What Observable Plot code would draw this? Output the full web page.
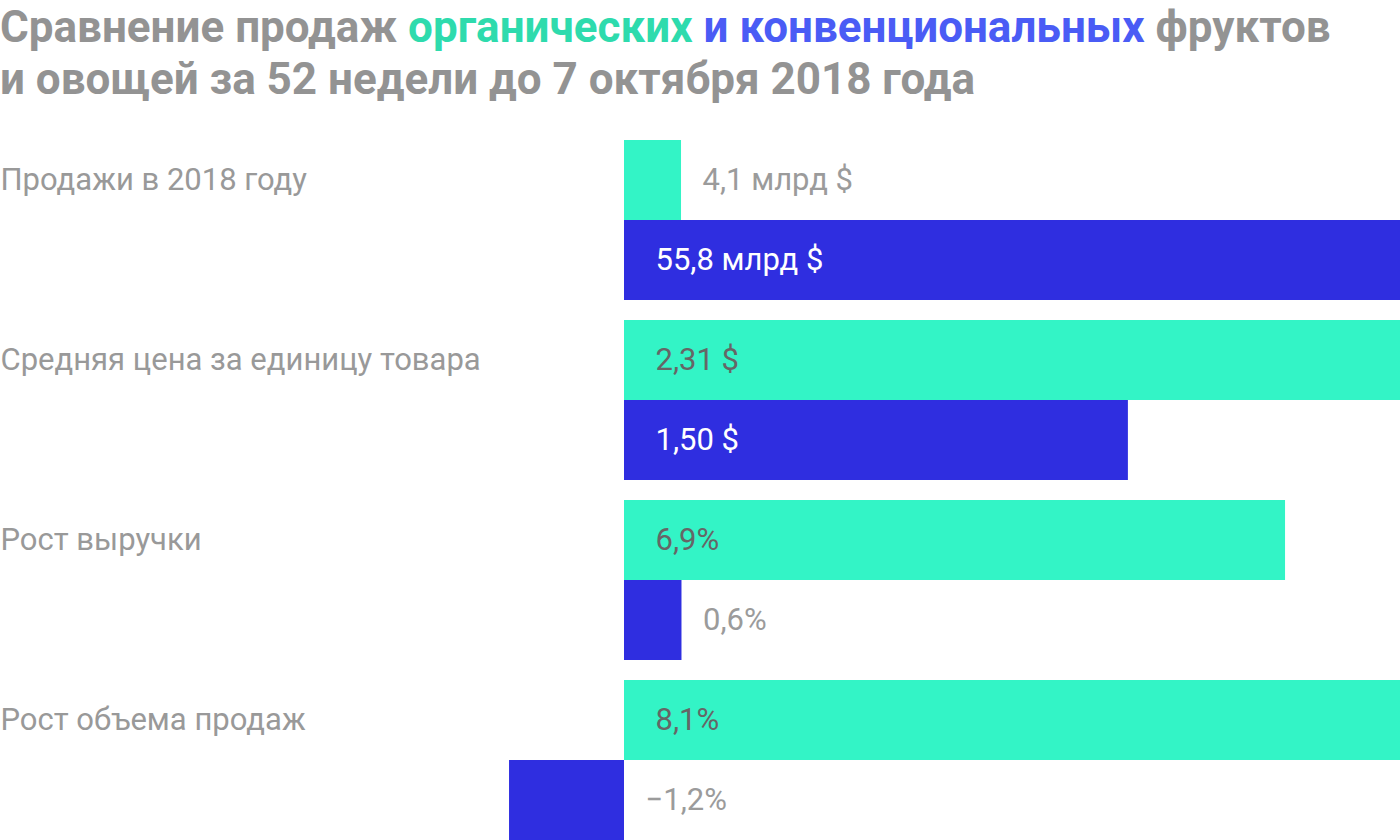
<!DOCTYPE html>
<html><head><meta charset="utf-8">
<script src="https://cdn.jsdelivr.net/npm/d3@7"></script>
<script src="https://cdn.jsdelivr.net/npm/@observablehq/plot@0.6"></script>
<style>
html,body{margin:0;padding:0;background:#fff;font-family:Roboto,sans-serif;overflow:hidden;}
#title{height:120px;font-weight:700;font-size:44px;line-height:52px;color:#939393;box-sizing:border-box;margin:0;padding-top:1px;white-space:nowrap;}
#chart svg{display:block;}
</style></head><body>
<div id="title">Сравнение продаж <span style="color:#2edbad">органических</span> <span style="color:#4a5cf5">и&nbsp;конвенциональных</span> фруктов<br>и овощей за 52 недели до 7 октября 2018 года</div>
<div id="chart"></div>
<script>
const categories = ["Продажи в 2018 году", "Средняя цена за единицу товара", "Рост выручки", "Рост объема продаж"];
const organic = [4.1, 2.31, 6.9, 8.1];
const conventional = [55.8, 1.50, 0.6, -1.2];
const decimals = [1, 2, 1, 1];
const suffixes = [" млрд $", " $", "%", "%"];
const scaleGroups = ["sales", "price", "growth", "growth"];
const seriesKeys = ["organic", "conventional"];
const seriesColors = ["#33f4c6", "#2f2ee0"];

const groupMax = {};
categories.forEach((c, i) => {
  const m = Math.max(Math.abs(organic[i]), Math.abs(conventional[i]));
  groupMax[scaleGroups[i]] = Math.max(groupMax[scaleGroups[i]] || 0, m);
});
const fmt = (v, d, s) => (v < 0 ? "−" : "") + Math.abs(v).toFixed(d).replace(".", ",") + s;

const rows = categories.flatMap((c, i) => [organic[i], conventional[i]].map((v, j) => {
  const norm = v / groupMax[scaleGroups[i]];
  return {category: c, series: seriesKeys[j], value: v, norm,
          label: fmt(v, decimals[i], suffixes[i]), inside: Math.abs(norm) > 0.3};
}));

const fontSize = 31;
const chart = Plot.plot({
  width: 1400, height: 720,
  marginLeft: 0, marginRight: 0, marginTop: 20, marginBottom: 0,
  style: {fontFamily: "Roboto, sans-serif", background: "#fff"},
  x: {domain: [0, 1], range: [624, 1400], axis: null},
  y: {domain: seriesKeys, padding: 0, axis: null},
  fy: {domain: categories, paddingInner: 1/9, paddingOuter: 0, axis: null},
  color: {domain: seriesKeys, range: seriesColors},
  marks: [
    Plot.barX(rows, {x: "norm", y: "series", fy: "category", fill: "series"}),
    Plot.text(categories, {fy: d => d, y: () => "organic", text: d => d, frameAnchor: "left",
      textAnchor: "start", fill: "#999999", fontSize}),
    Plot.text(rows.filter(d => d.inside && d.series === "organic"), {x: 0, y: "series", fy: "category",
      text: "label", dx: 31, textAnchor: "start", fill: "#666666", fontSize}),
    Plot.text(rows.filter(d => d.inside && d.series === "conventional"), {x: 0, y: "series", fy: "category",
      text: "label", dx: 31, textAnchor: "start", fill: "#ffffff", fontSize}),
    Plot.text(rows.filter(d => !d.inside), {x: d => Math.max(0, d.norm), y: "series", fy: "category",
      text: "label", dx: 21, textAnchor: "start", fill: "#9b9b9b", fontSize})
  ]
});
document.getElementById("chart").appendChild(chart);
</script>
</body></html>
